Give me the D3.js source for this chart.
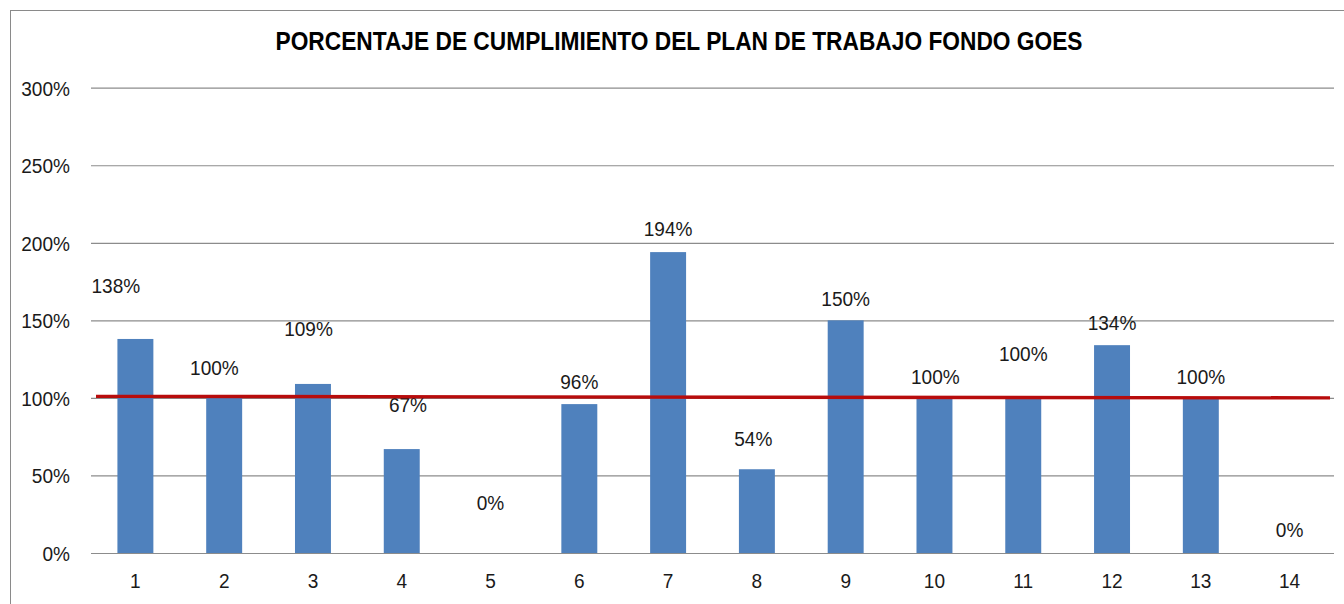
<!DOCTYPE html>
<html>
<head>
<meta charset="utf-8">
<script src="https://cdn.jsdelivr.net/npm/d3@7"></script>
<style>
	body { margin:0; background:#fff; }
	svg text { font-family:"Liberation Sans", Arial, sans-serif; fill:#1a1a1a; }
</style>
</head>
<body>
<div id="chart"></div>
<script>
var categories = ["1","2","3","4","5","6","7","8","9","10","11","12","13","14"];
var cumplimiento = [138, 100, 109, 67, 0, 96, 194, 54, 150, 100, 100, 134, 100, 0];
// where each data label sits (in % units) and its sideways shift (in band steps), as placed in the original
var labelAt = [167.5, 115, 140, 90.6, 28, 106, 204.6, 68.7, 159.3, 109, 123.5, 144, 109, 10.3];
var labelShift = [-0.22, -0.11, -0.05, 0.07, 0, 0, 0, -0.04, 0, 0.01, 0, 0, 0, 0];
var yTicks = [0, 50, 100, 150, 200, 250, 300];
var meta = [101, 100]; // red target line, left end and right end
var title = "PORCENTAJE DE CUMPLIMIENTO DEL PLAN DE TRABAJO FONDO GOES";

var width = 1344, height = 604;
var margin = {left:91, right:10, top:88, bottom:51};
var squeeze = 0.93; // the original's text is a bit condensed

var svg = d3.select("#chart").append("svg")
	.attr("width", width)
	.attr("height", height);

// outer frame
svg.append("rect")
	.attr("x", 10.5).attr("y", 10.5)
	.attr("width", 1400).attr("height", 700)
	.attr("fill", "none")
	.attr("stroke", "#8a8a8a");

var x = d3.scaleBand()
	.domain(categories)
	.range([margin.left, width - margin.right])
	.paddingInner(0.595)
	.paddingOuter(0.2975);

var y = d3.scaleLinear()
	.domain([0, 300])
	.range([height - margin.bottom, margin.top - 0.3]);

// title
svg.append("text")
	.attr("x", 679)
	.attr("y", 50)
	.attr("text-anchor", "middle")
	.attr("textLength", 807)
	.attr("lengthAdjust", "spacingAndGlyphs")
	.style("font-family", "'Liberation Sans Narrow', 'Arial Narrow', 'Liberation Sans', sans-serif")
	.style("font-weight", "bold")
	.style("font-size", "25px")
	.style("fill", "#000")
	.text(title);

// gridlines + y labels
var yAxis = d3.axisLeft(y)
	.tickValues(yTicks)
	.tickSize(-(width - margin.right - margin.left))
	.tickFormat(function(d){ return d + "%"; });

var gy = svg.append("g")
	.attr("transform", "translate(" + margin.left + ",0)")
	.call(yAxis);
gy.select(".domain").remove();
gy.selectAll(".tick line").attr("stroke", "#8c8c8c").attr("stroke-width", 1.2);
gy.selectAll(".tick text")
	.attr("x", null)
	.attr("dy", "0.36em")
	.attr("transform", "translate(-21,0) scale(" + squeeze + ",1)")
	.style("font-size", "20.5px")
	.style("fill", "#1a1a1a");

// x labels
var xAxis = d3.axisBottom(x).tickSize(0);
var gx = svg.append("g")
	.attr("transform", "translate(0," + y(0) + ")")
	.call(xAxis);
gx.select(".domain").remove();
gx.selectAll(".tick text")
	.attr("y", null)
	.attr("dy", null)
	.attr("transform", "translate(0,35) scale(" + squeeze + ",1)")
	.style("font-size", "20.5px")
	.style("fill", "#1a1a1a");

// bars
svg.selectAll(".bar")
	.data(cumplimiento)
	.enter().append("rect")
	.attr("class", "bar")
	.attr("x", function(d, i){ return x(categories[i]); })
	.attr("width", x.bandwidth())
	.attr("y", function(d){ return y(d); })
	.attr("height", function(d){ return y(0) - y(d); })
	.attr("fill", "#4f81bd");

// data labels
svg.selectAll(".lbl")
	.data(cumplimiento)
	.enter().append("text")
	.attr("class", "lbl")
	.attr("transform", function(d, i){
		var lx = x(categories[i]) + x.bandwidth() / 2 + labelShift[i] * x.step();
		return "translate(" + lx + "," + y(labelAt[i]) + ") scale(" + squeeze + ",1)";
	})
	.attr("text-anchor", "middle")
	.style("font-size", "20.5px")
	.text(function(d){ return d + "%"; });

// target line
var lineX = d3.scaleLinear().domain([0, meta.length - 1]).range([96, 1330]);
svg.append("path")
	.datum(meta)
	.attr("d", d3.line()
		.x(function(d, i){ return lineX(i); })
		.y(function(d){ return y(d); }))
	.attr("fill", "none")
	.attr("stroke", "#b80c0c")
	.attr("stroke-width", 3.4);
</script>
</body>
</html>
